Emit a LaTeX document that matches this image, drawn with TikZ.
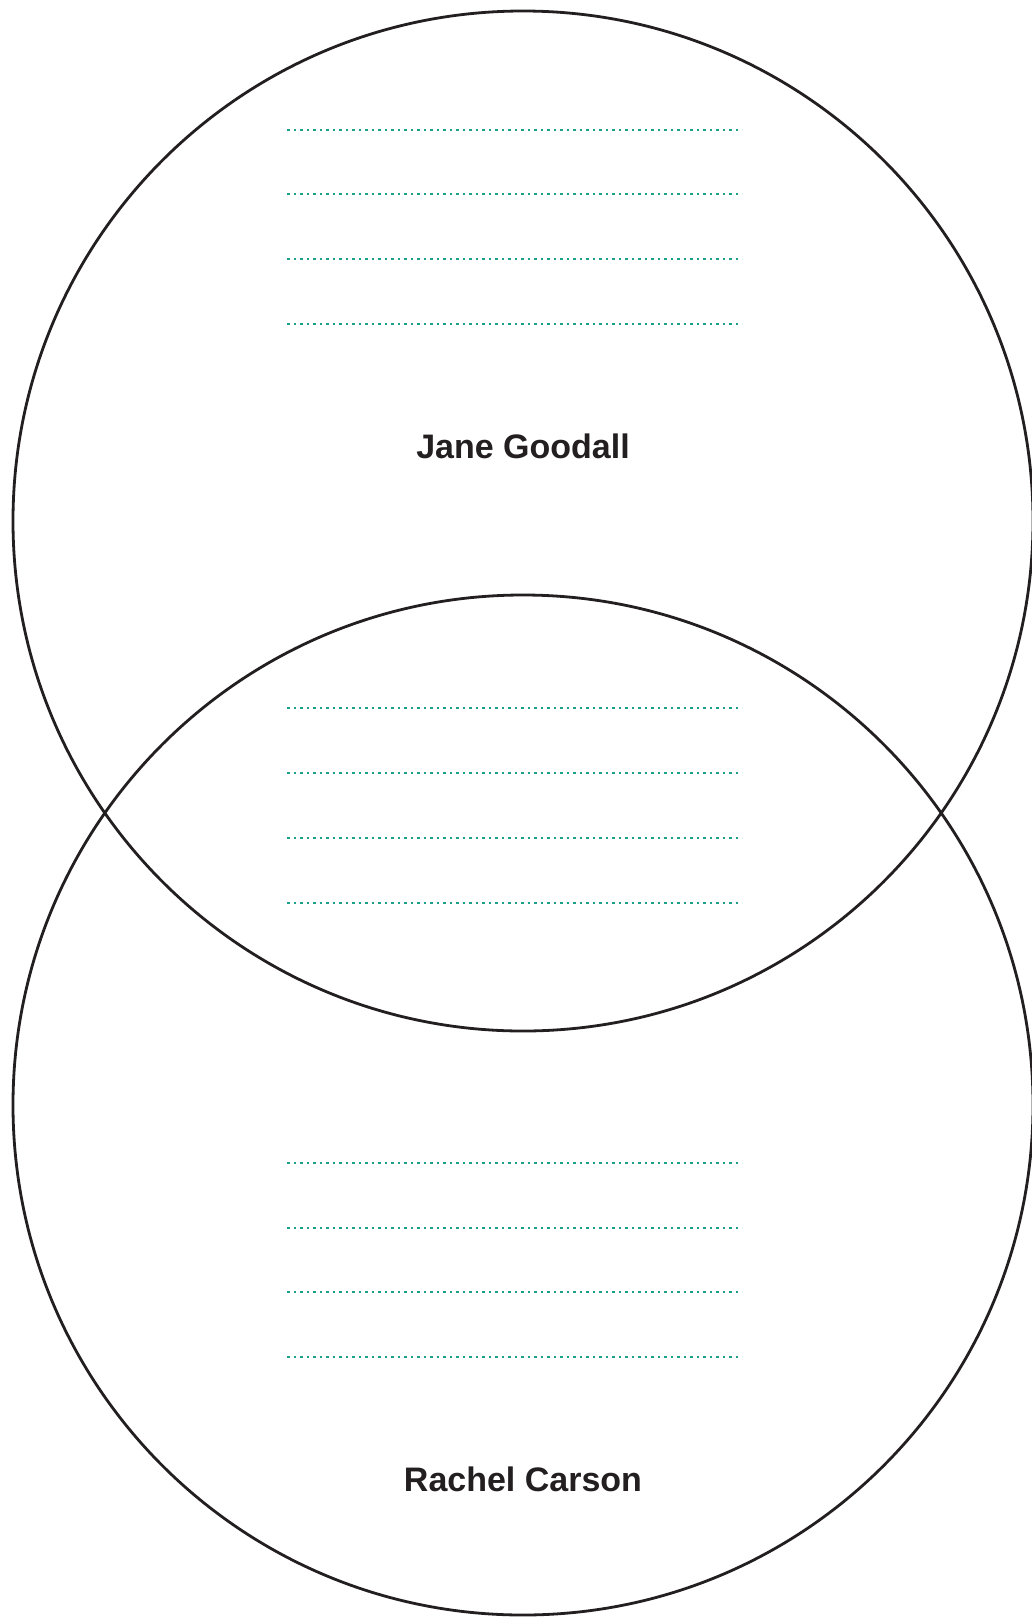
\documentclass[tikz,border=0pt]{standalone}
\usepackage{fontspec}
\setsansfont{Liberation Sans}
\usetikzlibrary{positioning}
\definecolor{tinta}{HTML}{231F20}
\definecolor{turquesa}{HTML}{1CA08A}
\tikzset{
  circulo/.style={draw=tinta,line width=2.8pt},
  renglon/.style={turquesa,line width=2.6pt,dash pattern=on 2.6pt off 3.9pt},
  nombre/.style={font=\sffamily\bfseries\fontsize{34}{40}\selectfont,text=tinta}
}
\begin{document}
\begin{tikzpicture}[x=1pt,y=-1pt,line cap=butt]
        \useasboundingbox (0,0) rectangle (1031,1617);
        % --- centros de los circulos ---
        \coordinate (A) at (523,521);
        \coordinate (B) at (523,1105);
        % --- circulos ---
        \draw[circulo] (A) circle (510pt);
        \draw[circulo] (B) circle (510pt);
        % --- renglones punteados ---
        \foreach \y in {130,194,259,324,708,773,838,903,1163,1228,1292,1357}{
          \draw[renglon] (287,\y) -- (742,\y);
        }
        % --- nombres ---
        \node[nombre] (jane) at (523,446) {Jane Goodall};
        \node[nombre] (rachel) at (523,1479) {Rachel Carson};
      \end{tikzpicture}
\end{document}
